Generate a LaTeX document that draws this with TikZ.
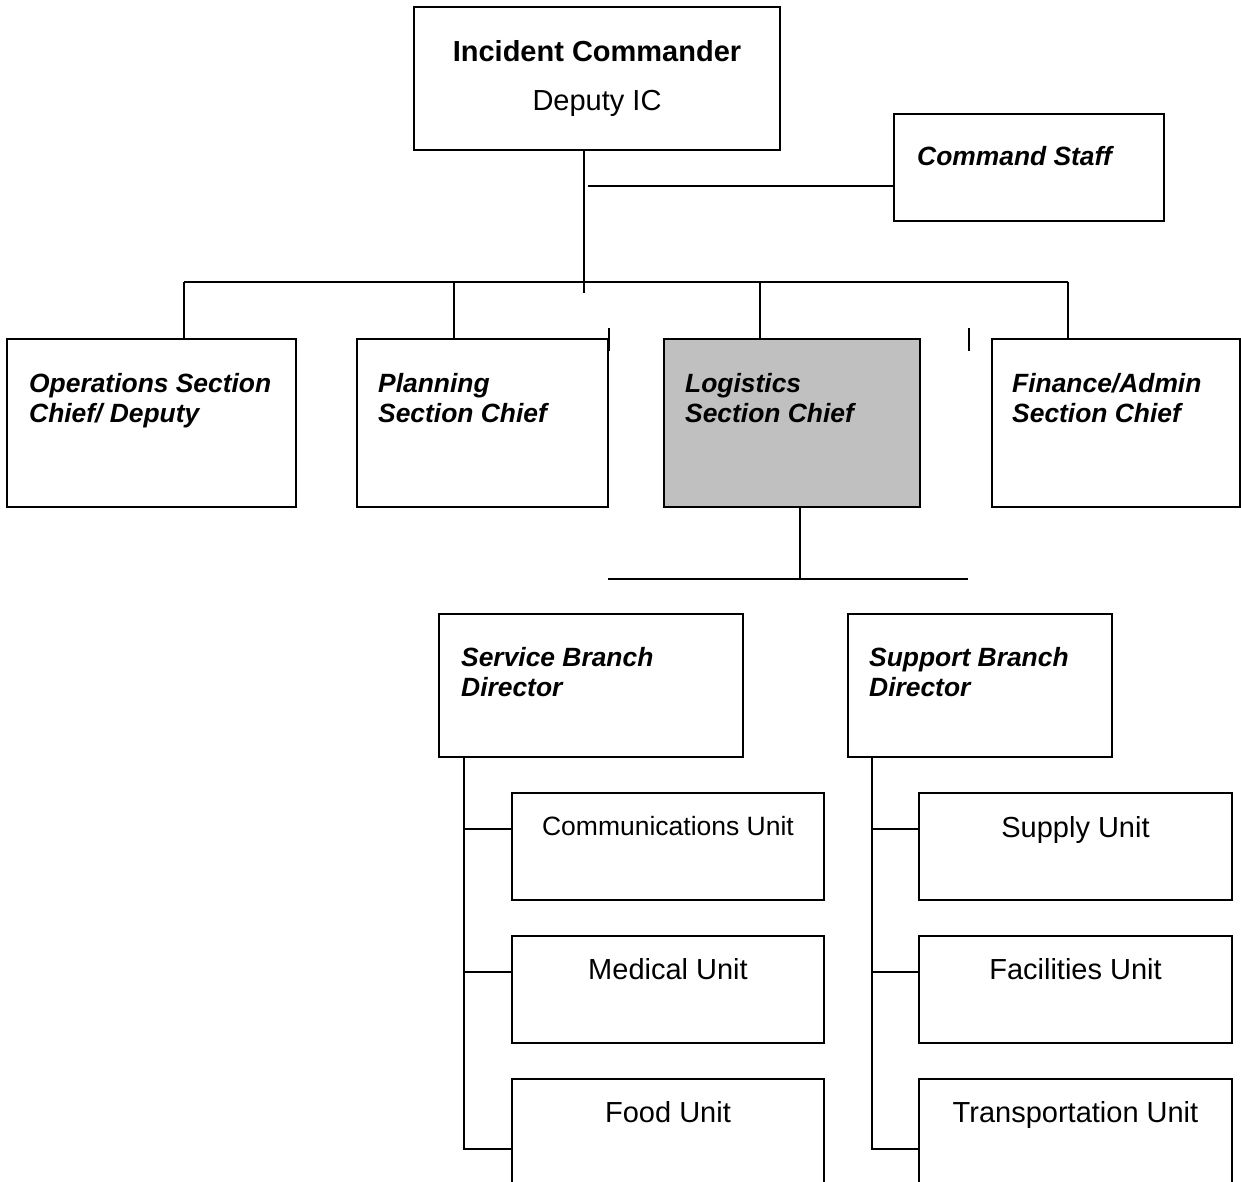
\documentclass[tikz,border=0pt]{standalone}
\usepackage{fontspec}
\setmainfont{Liberation Sans}
\begin{document}
\begin{tikzpicture}[x=1pt,y=-1pt,
  box/.style={draw, line width=2pt, inner sep=0pt},
  wire/.style={line width=1.8pt},
  role/.style={font=\bfseries\itshape\fontsize{26.4}{30}\selectfont, align=left, anchor=north west, inner sep=0pt},
  unitlabel/.style={font=\fontsize{29}{33}\selectfont, anchor=base, inner sep=0pt},
  headlabel/.style={font=\fontsize{29}{33}\selectfont, anchor=base, inner sep=0pt}]
\path[use as bounding box, clip] (0,0) rectangle (1241,1181);
\fill[white] (0,0) rectangle (1241,1181);

% command level
\node[box, minimum width=366pt, minimum height=143pt] (ic) at (597,78.5) {};
\node[headlabel, font=\bfseries\fontsize{29}{33}\selectfont] (icname) at (597,61) {Incident Commander};
\node[headlabel] (icdep) at (597,110) {Deputy IC};
\node[box, minimum width=270pt, minimum height=107pt] (cs) at (1029,167.5) {};
\node[role, anchor=base west] (cstext) at (917,165) {Command Staff};

% general staff sections
\node[box, minimum width=289pt, minimum height=168pt] (ops) at (151.5,423) {};
\node[box, minimum width=251pt, minimum height=168pt] (plan) at (482.5,423) {};
\node[box, fill={rgb,255:red,192;green,192;blue,192}, minimum width=256pt, minimum height=168pt] (logi) at (792,423) {};
\node[box, minimum width=247.5pt, minimum height=168pt] (fin) at (1115.75,423) {};
\node[role] (opstext) at ([shift={(23,35.5)}]ops.north west) {Operations Section\\Chief/ Deputy};
\node[role] (plantext) at ([shift={(22,35.5)}]plan.north west) {Planning\\Section Chief};
\node[role] (logitext) at ([shift={(22,35.5)}]logi.north west) {Logistics\\Section Chief};
\node[role] (fintext) at ([shift={(21,35.5)}]fin.north west) {Finance/Admin\\Section Chief};

% logistics branches
\node[box, minimum width=304pt, minimum height=143pt] (serv) at (591,685.5) {};
\node[box, minimum width=264pt, minimum height=143pt] (supp) at (980,685.5) {};
\node[role] (servtext) at ([shift={(23,34.5)}]serv.north west) {Service Branch\\Director};
\node[role] (supptext) at ([shift={(22,34.5)}]supp.north west) {Support Branch\\Director};

% units
\node[box, minimum width=312pt, minimum height=107pt] (comm) at (668,846.5) {};
\node[box, minimum width=312pt, minimum height=107pt] (med) at (668,989.5) {};
\node[box, minimum width=312pt, minimum height=107pt] (food) at (668,1132.5) {};
\node[box, minimum width=313pt, minimum height=107pt] (supply) at (1075.5,846.5) {};
\node[box, minimum width=313pt, minimum height=107pt] (fac) at (1075.5,989.5) {};
\node[box, minimum width=313pt, minimum height=107pt] (trans) at (1075.5,1132.5) {};
\node[unitlabel, font=\fontsize{26.5}{30}\selectfont] (commtext) at (668,835) {Communications Unit};
\node[unitlabel] (medtext) at (668,979) {Medical Unit};
\node[unitlabel] (foodtext) at (668,1122) {Food Unit};
\node[unitlabel] (supplytext) at (1075.5,837) {Supply Unit};
\node[unitlabel] (factext) at (1075.5,979) {Facilities Unit};
\node[unitlabel] (transtext) at (1075.5,1122) {Transportation Unit};

% junction points
\coordinate (icdrop) at (584,293);
\coordinate (csjoin) at (588,186);
\coordinate (busW) at (184,282);
\coordinate (busP) at (454,282);
\coordinate (busL) at (760,282);
\coordinate (busE) at (1068,282);
\coordinate (tickA) at (609,328);
\coordinate (tickB) at (969,328);
\coordinate (logdrop) at (800,579);
\coordinate (barW) at (608,579);
\coordinate (barE) at (968,579);
\coordinate (servrail) at (464,1149);
\coordinate (supprail) at (872,1149);
\coordinate (stubA) at (0,829);
\coordinate (stubB) at (0,972);

% command connectors
\draw[wire] (ic.south -| icdrop) -- (icdrop);
\draw[wire] (csjoin) -- (csjoin -| cs.west);
\draw[wire] (busW) -- (busE);
\draw[wire] (busW) -- (busW |- ops.north);
\draw[wire] (busP) -- (busP |- plan.north);
\draw[wire] (busL) -- (busL |- logi.north);
\draw[wire] (busE) -- (busE |- fin.north);
\draw[wire] (tickA) -- ++(0,23);
\draw[wire] (tickB) -- ++(0,23);

% logistics connectors
\draw[wire] (logi.south -| logdrop) -- (logdrop);
\draw[wire] (barW) -- (barE);

% service branch rail
\draw[wire] (serv.south -| servrail) -- (servrail) -- (servrail -| food.west);
\draw[wire] (servrail |- stubA) -- (comm.west |- stubA);
\draw[wire] (servrail |- stubB) -- (med.west |- stubB);

% support branch rail
\draw[wire] (supp.south -| supprail) -- (supprail) -- (supprail -| trans.west);
\draw[wire] (supprail |- stubA) -- (supply.west |- stubA);
\draw[wire] (supprail |- stubB) -- (fac.west |- stubB);
\end{tikzpicture}
\end{document}
